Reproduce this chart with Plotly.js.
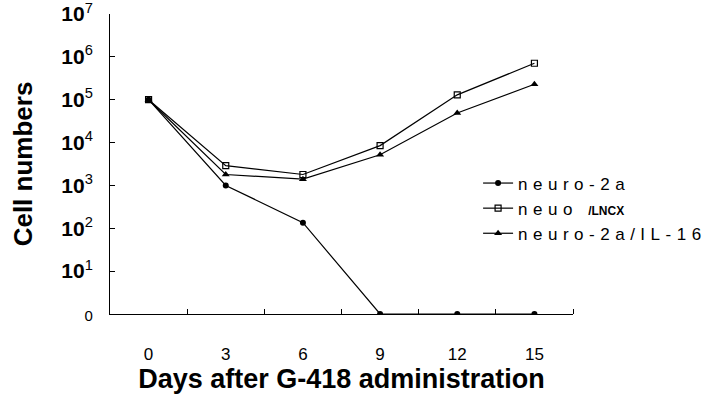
<!DOCTYPE html>
<html>
<head>
<meta charset="utf-8">
<script src="https://cdn.plot.ly/plotly-3.0.1.min.js"></script>
<style>html,body{margin:0;padding:0;background:#fff;}#chart{width:722px;height:397px;}
#chart .legendtext{letter-spacing:5.5px;}
#chart .legend .scrollbox{clip-path:none !important;}
#chart .legend{clip-path:none !important;}</style>
</head>
<body>
<div id="chart"></div>
<script>
// ---- data ----
var days = [0, 3, 6, 9, 12, 15];
var neuro2a = [100000, 1000, 135, 0, 0, 0];
var neuoLNCX = [100000, 2900, 1800, 8500, 130000, 710000];
var neuro2aIL16 = [100000, 1800, 1400, 5200, 49000, 230000];
var seriesNames = ['neuro-2a', 'neuo <span style="font-size:12px;font-weight:bold;letter-spacing:0px">/LNCX</span>', 'neuro-2a/IL-16'];
var yTickVals = [1, 10, 100, 1000, 10000, 100000, 1000000, 10000000];
var yTickText = ['<span style="font-size:15px">0</span>', '<b>10</b><sup>1</sup>', '<b>10</b><sup>2</sup>', '<b>10</b><sup>3</sup>', '<b>10</b><sup>4</sup>', '<b>10</b><sup>5</sup>', '<b>10</b><sup>6</sup>', '<b>10</b><sup>7</sup>'];
var xTickText = ['0', '3', '6', '9', '12', '15'];
var xMinorTicks = [1.5, 4.5, 7.5, 10.5, 13.5, 16.5];

// a count of 0 is drawn on the axis baseline (labelled "0")
function toAxis(arr) { return arr.map(function (v) { return v === 0 ? 1 : v; }); }

var lineStyle = {color: 'black', width: 1.2};
var traces = [
  {x: days, y: toAxis(neuro2a), name: seriesNames[0], mode: 'lines+markers', line: lineStyle,
   marker: {symbol: 'circle', size: 6, color: 'black'}},
  {x: days, y: toAxis(neuoLNCX), name: seriesNames[1], mode: 'lines+markers', line: lineStyle,
   marker: {symbol: 'square-open', size: 6, color: 'black', line: {width: 1.2}}},
  {x: days, y: toAxis(neuro2aIL16), name: seriesNames[2], mode: 'lines+markers', line: lineStyle,
   marker: {symbol: 'triangle-up', size: 7, color: 'black'}}
];

var layout = {
  width: 722, height: 397,
  margin: {l: 110, r: 149, t: 14, b: 83},
  paper_bgcolor: 'white', plot_bgcolor: 'white',
  font: {family: 'Liberation Sans, Arial, sans-serif', color: 'black'},
  showlegend: true,
  legend: {x: 0.795, xanchor: 'left', y: 0.495, yanchor: 'top', xref: 'paper', yref: 'paper',
           font: {size: 17, family: 'Liberation Sans, Arial, sans-serif'},
           tracegroupgap: 0, itemwidth: 30, bgcolor: 'rgba(0,0,0,0)'},
  xaxis: {
    range: [-1.5, 16.5], showgrid: false, zeroline: false,
    showline: true, linecolor: 'black', linewidth: 1,
    tickmode: 'array', tickvals: days, ticktext: xTickText, ticks: '',
    tickfont: {size: 17}, ticklabelstandoff: 25,
    minor: {tickmode: 'array', tickvals: xMinorTicks, ticks: 'inside', ticklen: 5, tickcolor: 'black', showgrid: false},
    title: {text: '<b>Days after G-418 administration</b>', font: {size: 27}, standoff: 2}
  },
  yaxis: {
    type: 'log', range: [0, 7], showgrid: false, zeroline: false,
    showline: true, linecolor: 'black', linewidth: 1,
    tickmode: 'array', tickvals: yTickVals, ticktext: yTickText,
    ticks: 'inside', ticklen: 5, tickcolor: 'black', ticklabeloverflow: 'allow',
    tickfont: {size: 21}, ticklabelstandoff: 12,
    title: {text: '<b>Cell numbers</b>', font: {size: 26}, standoff: 21}
  }
};

Plotly.newPlot('chart', traces, layout, {staticPlot: true, displayModeBar: false});
</script>
</body>
</html>
